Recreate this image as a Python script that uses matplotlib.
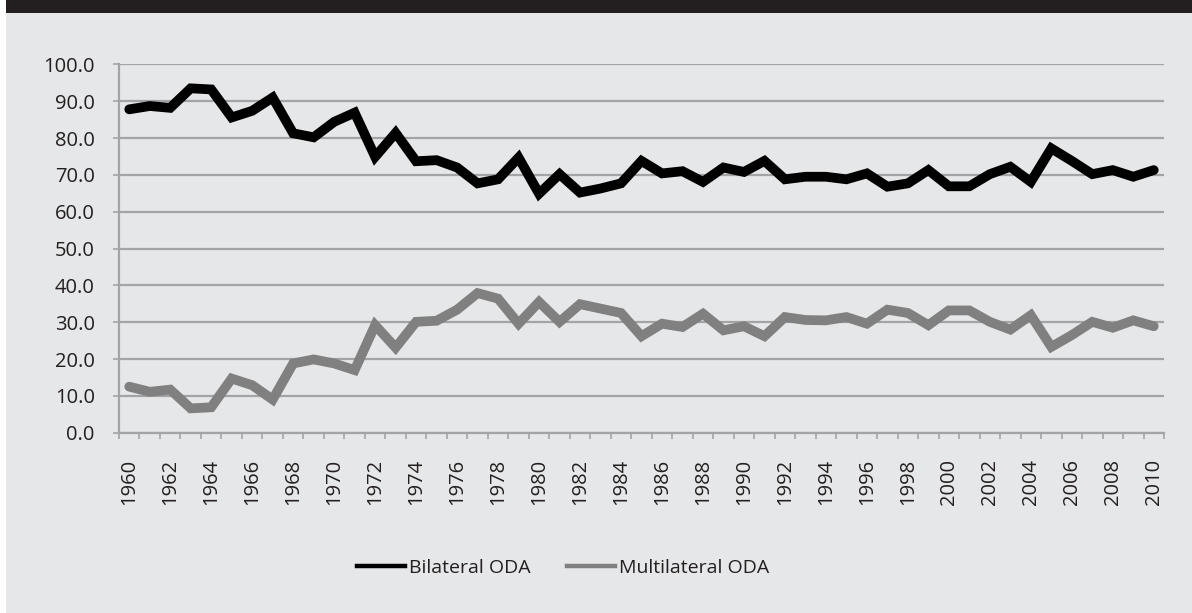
import numpy as np
import matplotlib.pyplot as plt
from matplotlib.lines import Line2D
from matplotlib.patches import Rectangle

years = list(range(1960, 2011))

bilateral = [87.8, 88.7, 88.2, 93.5, 93.2, 85.6, 87.4, 91.0, 81.3, 80.2,
             84.4, 86.9, 74.9, 81.4, 73.7, 74.0, 72.0, 67.7, 68.8, 74.7,
             64.9, 70.2, 65.2, 66.3, 67.7, 73.8, 70.4, 71.0, 68.1, 72.0,
             70.8, 73.8, 68.8, 69.5, 69.5, 68.8, 70.4, 66.8, 67.7, 71.3,
             66.9, 66.9, 70.2, 72.2, 68.1, 77.2, 73.8, 70.2, 71.3, 69.5,
             71.3]

multilateral = [12.5, 11.1, 11.7, 6.6, 6.9, 14.7, 12.9, 9.0, 18.8, 19.9,
                18.8, 17.0, 29.2, 23.1, 30.1, 30.4, 33.4, 37.9, 36.4, 29.6,
                35.5, 30.1, 34.9, 33.7, 32.5, 26.2, 29.6, 28.7, 32.3, 27.8,
                28.9, 26.2, 31.4, 30.6, 30.5, 31.4, 29.6, 33.4, 32.5, 29.2,
                33.2, 33.2, 30.1, 28.0, 31.9, 23.3, 26.5, 30.1, 28.5, 30.5,
                28.9]

series_names = ["Bilateral ODA", "Multilateral ODA"]
yticks = np.arange(0, 101, 10)

W, H = 1192, 613
BG = "#e6e7e8"
GRID = "#a3a4a6"

plt.rcParams['font.family'] = ['Open Sans', 'DejaVu Sans']

fig = plt.figure(figsize=(W / 100, H / 100), dpi=100, facecolor="white")

# panel background and dark header band
fig.patches.append(Rectangle((6 / W, 0), 1 - 6 / W, 1 - 6 / H,
                             transform=fig.transFigure, facecolor=BG,
                             edgecolor="none", zorder=0))
fig.patches.append(Rectangle((6 / W, 1 - 13 / H), 1 - 6 / W, 13 / H,
                             transform=fig.transFigure, facecolor="#231f20",
                             edgecolor="none", zorder=1))

left, right = 119 / W, 1164 / W
bottom, top = 1 - 432.7 / H, 1 - 64.4 / H
ax = fig.add_axes([left, bottom, right - left, top - bottom])
ax.set_facecolor("none")
ax.set_zorder(3)

x = np.arange(len(years))
ax.plot(x, multilateral, color="#808080", lw=7, solid_joinstyle="miter",
        solid_capstyle="round", zorder=3)
ax.plot(x, bilateral, color="black", lw=7, solid_joinstyle="miter",
        solid_capstyle="round", zorder=4)

ax.set_xlim(-0.5, len(years) - 0.5)
ax.set_ylim(0, 100)

ax.set_yticks(yticks)
ax.set_yticklabels([f"{v:.1f}" for v in yticks])
ax.yaxis.grid(True, color=GRID, lw=1.6)
ax.set_axisbelow(True)

ax.set_xticks(x[::2])
ax.set_xticklabels([str(y) for y in years[::2]], rotation=90)
ax.set_xticks(np.arange(-0.5, len(years), 1), minor=True)

for s in ["top", "right"]:
    ax.spines[s].set_visible(False)
for s in ["left", "bottom"]:
    ax.spines[s].set_color(GRID)
    ax.spines[s].set_linewidth(1.6)

ax.tick_params(axis="y", length=4.5, width=1.2, color=GRID, pad=13,
               labelsize=14.5, labelcolor="#231f20")
ax.tick_params(axis="x", which="major", length=0, pad=19,
               labelsize=14.5, labelcolor="#231f20")
ax.tick_params(axis="x", which="minor", length=4.5, width=1.2, color=GRID)

handles = [Line2D([], [], color="black", lw=3.2),
           Line2D([], [], color="#808080", lw=3.2)]
leg = fig.legend(handles, series_names, loc="center",
                 bbox_to_anchor=(563 / W, 1 - 568 / H), ncol=2, frameon=False,
                 fontsize=14, handlelength=2.45, handletextpad=0.2,
                 columnspacing=1.9, labelcolor="#231f20")
leg.set_zorder(4)

fig.savefig("out.png", dpi=100, facecolor="white")
